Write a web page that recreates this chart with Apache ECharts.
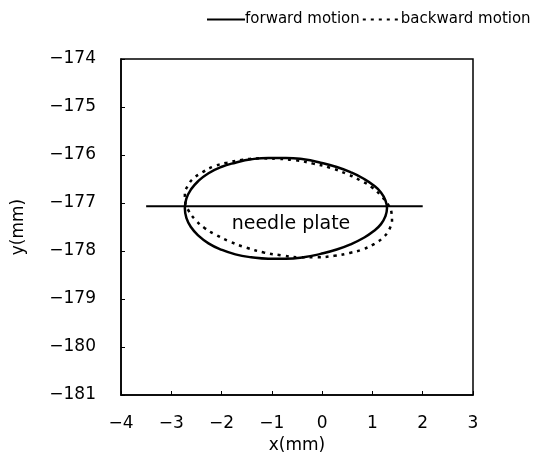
<!DOCTYPE html>
<html>
<head>
<meta charset="utf-8">
<script src="https://cdn.jsdelivr.net/npm/echarts@6/dist/echarts.min.js"></script>
<style>html,body{margin:0;padding:0;background:#fff}#c{width:543px;height:465px}</style>
</head>
<body>
<div id="c"></div>
<script>
// forward motion (solid) closed curve points
const forwardX = [1.29, 1.26, 1.17, 1.02, 0.82, 0.57, 0.29, -0.03, -0.37, -0.72, -1.07, -1.41, -1.725, -2.01, -2.26, -2.46, -2.61, -2.70, -2.73, -2.70, -2.61, -2.46, -2.26, -2.01, -1.725, -1.41, -1.07, -0.72, -0.37, -0.03, 0.29, 0.57, 0.82, 1.02, 1.17, 1.26, 1.29];
const forwardY = [-177.11, -176.95, -176.78, -176.63, -176.49, -176.36, -176.25, -176.16, -176.09, -176.06, -176.06, -176.09, -176.16, -176.25, -176.38, -176.54, -176.72, -176.91, -177.11, -177.31, -177.50, -177.68, -177.84, -177.97, -178.07, -178.13, -178.16, -178.16, -178.13, -178.06, -177.97, -177.86, -177.73, -177.59, -177.44, -177.27, -177.11];
// backward motion (dotted) closed curve points
const backwardX = [1.39, 1.38, 1.31, 1.18, 1.00, 0.76, 0.48, 0.17, -0.18, -0.53, -0.89, -1.24, -1.58, -1.89, -2.16, -2.38, -2.56, -2.67, -2.73, -2.72, -2.65, -2.52, -2.34, -2.10, -1.82, -1.51, -1.16, -0.81, -0.45, -0.10, 0.24, 0.55, 0.82, 1.04, 1.22, 1.33, 1.39];
const backwardY = [-177.39, -177.21, -177.03, -176.86, -176.68, -176.53, -176.39, -176.27, -176.18, -176.11, -176.08, -176.07, -176.10, -176.16, -176.24, -176.36, -176.49, -176.64, -176.81, -176.99, -177.17, -177.35, -177.52, -177.67, -177.81, -177.93, -178.03, -178.09, -178.13, -178.13, -178.10, -178.04, -177.96, -177.85, -177.71, -177.56, -177.39];
// needle plate line
const needleX = [-3.5, 2.0];
const needleY = [-177.07, -177.07];
const needleLabelPos = [-0.62, -177.44];
const labelText = 'needle plate';
const xTicks = [-4, -3, -2, -1, 0, 1, 2, 3];
const yTicks = [-181, -180, -179, -178, -177, -176, -175, -174];

const zip = (a, b) => a.map((v, i) => [v, b[i]]);
const minus = v => String(v).replace('-', '\u2212');
const FONT = 'DejaVu Sans';

const chart = echarts.init(document.getElementById('c'), null, {renderer: 'canvas'});
chart.setOption({
  animation: false,
  backgroundColor: '#fff',
  legend: {
    left: 201, top: 7,
    itemWidth: 38, itemHeight: 14, itemGap: 2,
    itemStyle: {opacity: 0},
    textStyle: {fontFamily: FONT, fontSize: 15, color: '#000', padding: [0, 0, 0, -5]},
    data: ['forward motion', 'backward motion']
  },
  grid: {left: 121, right: 70, top: 59, bottom: 70, show: true, borderColor: '#000', borderWidth: 1.5},
  xAxis: {
    type: 'value', min: xTicks[0], max: xTicks[xTicks.length - 1], interval: 1,
    name: 'x(mm)', nameLocation: 'middle', nameGap: 42,
    nameTextStyle: {fontFamily: FONT, fontSize: 17, color: '#000'},
    axisLine: {onZero: false, lineStyle: {color: '#000', width: 1.5}},
    axisTick: {inside: true, length: 4, lineStyle: {color: '#000'}},
    axisLabel: {formatter: minus, fontFamily: FONT, fontSize: 17, color: '#000', margin: 20},
    splitLine: {show: false}
  },
  yAxis: {
    type: 'value', min: yTicks[0], max: yTicks[yTicks.length - 1], interval: 1,
    name: 'y(mm)', nameLocation: 'middle', nameGap: 94, nameRotate: 90,
    nameTextStyle: {fontFamily: FONT, fontSize: 17, color: '#000'},
    axisLine: {onZero: false, lineStyle: {color: '#000', width: 1.5}},
    axisTick: {inside: true, length: 4, lineStyle: {color: '#000'}},
    axisLabel: {formatter: minus, fontFamily: FONT, fontSize: 17, color: '#000', margin: 25},
    splitLine: {show: false}
  },
  series: [
    {
      name: 'forward motion', type: 'line', smooth: true, showSymbol: false, symbol: 'none',
      data: zip(forwardX, forwardY),
      lineStyle: {color: '#000', width: 2.5}, itemStyle: {color: '#000'}
    },
    {
      name: 'backward motion', type: 'line', smooth: true, showSymbol: false, symbol: 'none',
      data: zip(backwardX, backwardY),
      lineStyle: {color: '#000', width: 2.5, type: [3, 5]}, itemStyle: {color: '#000'}
    },
    {
      name: 'needle', type: 'line', showSymbol: false, symbol: 'none',
      data: zip(needleX, needleY),
      lineStyle: {color: '#000', width: 2}
    },
    {
      name: 'label', type: 'scatter', symbolSize: 0, silent: true,
      itemStyle: {opacity: 1, color: '#000'},
      data: [needleLabelPos],
      label: {show: true, position: 'inside', formatter: labelText, fontFamily: FONT, fontSize: 19, color: '#000', opacity: 1}
    }
  ]
});
</script>
</body>
</html>
